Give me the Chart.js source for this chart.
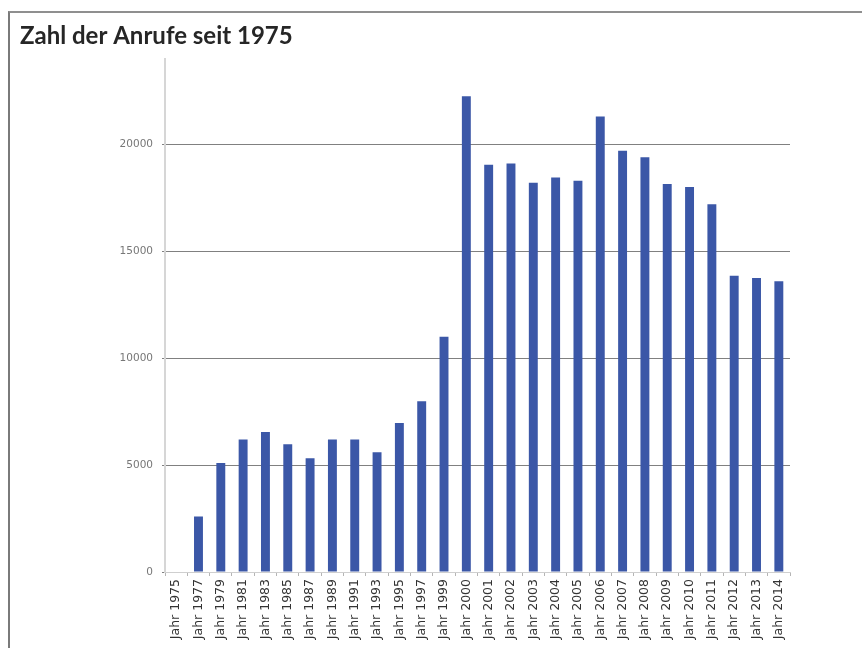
<!DOCTYPE html>
<html>
<head>
<meta charset="utf-8">
<script src="https://cdn.jsdelivr.net/npm/chart.js@4/dist/chart.umd.min.js"></script>
<style>
  html, body { margin: 0; padding: 0; background: #fff; }
  #wrap { position: relative; width: 862px; height: 648px; overflow: hidden; }
  #frame { position: absolute; left: 8px; top: 11px; width: 900px; height: 700px;
           border-top: 2px solid #8f8f8f; border-left: 2px solid #7a7a7a; }
  canvas { position: absolute; left: 0; top: 0; }
</style>
</head>
<body>
<div id="wrap">
  <div id="frame"></div>
  <canvas id="c" width="862" height="648"></canvas>
</div>
<script>
const titleText = 'Zahl der Anrufe seit 1975';
const years = ['1975','1977','1979','1981','1983','1985','1987','1989','1991','1993','1995','1997','1999',
  '2000','2001','2002','2003','2004','2005','2006','2007','2008','2009','2010','2011','2012','2013','2014'];
const categories = years.map(y => 'Jahr ' + y);
const calls = [0, 2600, 5100, 6200, 6550, 5980, 5320, 6200, 6200, 5600, 6970, 7990, 11000,
  22250, 19050, 19100, 18200, 18450, 18300, 21300, 19700, 19400, 18150, 18000, 17200, 13850, 13750, 13600];
const yTicks = [0, 5000, 10000, 15000, 20000];

new Chart(document.getElementById('c'), {
  type: 'bar',
  data: {
    labels: categories,
    datasets: [{
      data: calls,
      backgroundColor: '#3b57a7',
      borderWidth: 0,
      barPercentage: 0.4,
      categoryPercentage: 1.0
    }]
  },
  options: {
    responsive: false,
    animation: false,
    layout: { padding: { left: 20, right: 72, top: 22, bottom: 0 } },
    plugins: {
      legend: { display: false },
      tooltip: { enabled: false },
      title: {
        display: true,
        text: titleText,
        align: 'start',
        color: '#262626',
        font: { family: 'Lato', size: 24, weight: 'bold', lineHeight: 1.2 },
        padding: { top: 0, bottom: 8 }
      }
    },
    scales: {
      x: {
        grid: { display: true, drawOnChartArea: false, tickLength: 4, color: '#b5b5b5' },
        border: { color: '#cfcfcf', width: 1 },
        ticks: {
          autoSkip: false, minRotation: 90, maxRotation: 90,
          color: '#333', padding: 3,
          font: { family: 'DejaVu Sans', size: 12.5 }
        },
        afterFit: s => { s.height = 76; }
      },
      y: {
        min: 0, max: 24000,
        ticks: {
          color: '#777', padding: 9,
          font: { family: 'DejaVu Sans', size: 10.5 },
          callback: v => String(v)
        },
        afterBuildTicks: s => { s.ticks = yTicks.map(v => ({ value: v })); },
        grid: { color: '#808080', lineWidth: 1, tickLength: 3 },
        border: { color: '#d6d6d6', width: 2 },
        afterFit: s => { s.width = 145; }
      }
    }
  }
});
</script>
</body>
</html>
